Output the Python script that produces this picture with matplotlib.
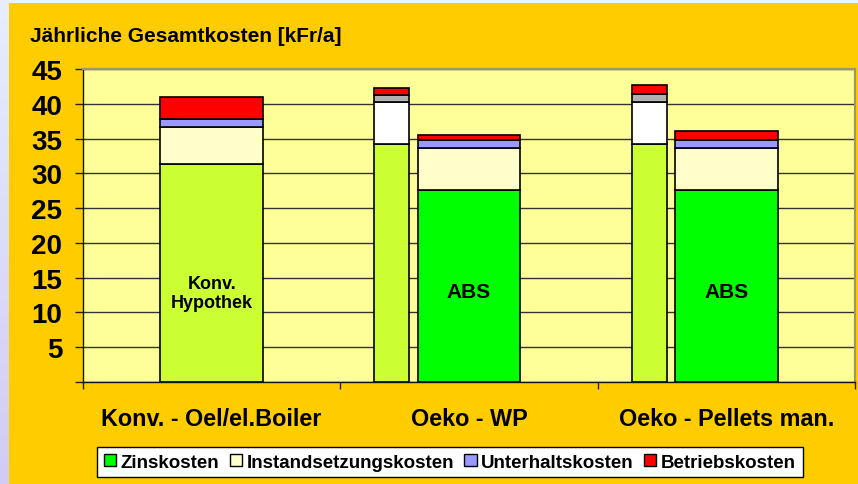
import numpy as np
import matplotlib
matplotlib.use('Agg')
import matplotlib.pyplot as plt
from matplotlib.patches import Rectangle, Patch

plt.rcParams['font.family'] = ['Liberation Sans', 'DejaVu Sans']
plt.rcParams['font.weight'] = 'bold'

categories = ['Konv. - Oel/el.Boiler', 'Oeko - WP', 'Oeko - Pellets man.']
series = ['Zinskosten', 'Instandsetzungskosten', 'Unterhaltskosten', 'Betriebskosten']

# wide bars (Konv. Hypothek / ABS)
zins = [31.4, 27.6, 27.6]
instand = [5.3, 6.1, 6.1]
unterhalt = [1.1, 1.1, 1.1]
betrieb = [3.2, 0.7, 1.3]
bar_labels = ['Konv.\nHypothek', 'ABS', 'ABS']

# narrow comparison bars (conventional mortgage) for the Oeko variants
narrow_cats = [1, 2]
n_zins = [34.2, 34.25]
n_instand = [6.0, 6.05]
n_unterhalt = [1.1, 1.1]
n_betrieb = [0.9, 1.35]

yticks = [5, 10, 15, 20, 25, 30, 35, 40, 45]

W, H = 858, 485
fig = plt.figure(figsize=(W / 100, H / 100), dpi=100)
fig.patch.set_facecolor('#FFCC00')
# left lavender strip and top light strip
grad = np.linspace(0, 1, 100).reshape(-1, 1)
bg = fig.add_axes([0, 0, 9 / W, 1])
bg.imshow(grad, aspect='auto', cmap=matplotlib.colors.LinearSegmentedColormap.from_list(
    'lav', ['#E6EEFF', '#D2CCF4']), extent=[0, 1, 0, 1], origin='upper')
bg.axis('off')
fig.patches.append(Rectangle((9 / W, 1 - 4 / H), 1, 4 / H, transform=fig.transFigure,
                             facecolor='#E8F4FF', edgecolor='none', zorder=0))

ax = fig.add_axes([83 / W, (H - 383) / H, (855 - 83) / W, (383 - 70) / H])
ax.set_facecolor('#FFFF99')

x = np.arange(len(categories))
wide_w = 0.40
edge = dict(edgecolor='black', linewidth=1.2, zorder=3)

colors_main = ['#00FF00', '#FFFFCC', '#9999FF', '#FF0000']
bottom = np.zeros(3)
for i, vals in enumerate([zins, instand, unterhalt, betrieb]):
    cols = [colors_main[i]] * 3
    if i == 0:
        cols[0] = '#CCFF33'
    ax.bar(x, vals, wide_w, bottom=bottom, color=cols, **edge)
    bottom += np.array(vals)

narrow_colors = ['#CCFF33', '#FFFFFF', '#B2B2B2', '#FF0000']
nx = np.array(narrow_cats) - 0.30
nbottom = np.zeros(2)
for i, vals in enumerate([n_zins, n_instand, n_unterhalt, n_betrieb]):
    ax.bar(nx, vals, 0.137, bottom=nbottom, color=narrow_colors[i], **edge)
    nbottom += np.array(vals)

ax.text(0, 12.8, bar_labels[0], ha='center', va='center', fontsize=13,
        fontweight='bold', linespacing=1.1, zorder=4)
for i in (1, 2):
    ax.text(i, 13.0, bar_labels[i], ha='center', va='center', fontsize=15,
            fontweight='bold', zorder=4)

ax.set_xlim(-0.5, 2.5)
ax.set_ylim(0, 45)
ax.set_yticks([0] + yticks)
ax.set_yticklabels([''] + [str(v) for v in yticks])
ax.yaxis.grid(True, color='#333333', linewidth=1.0, zorder=1)
ax.set_axisbelow(True)
ax.tick_params(axis='y', direction='out', length=6, width=1, pad=9,
               labelsize=20, color='#222222')

ax.set_xticks([-0.5, 0.5, 1.5, 2.5], minor=False)
ax.set_xticklabels([])
ax.set_xticks(x, minor=True)
ax.set_xticklabels(categories, minor=True, fontsize=16.8, fontweight='bold')
ax.tick_params(axis='x', which='major', direction='out', length=5, width=1, color='#222222')
ax.tick_params(axis='x', which='minor', length=0, pad=18)

for s in ['left', 'bottom']:
    ax.spines[s].set_color('#111111')
    ax.spines[s].set_linewidth(1.0)
for s in ['top', 'right']:
    ax.spines[s].set_color('#999966')
    ax.spines[s].set_linewidth(1.6)

fig.text(30 / W, 1 - 36 / H, 'Jährliche Gesamtkosten [kFr/a]', fontsize=15,
         fontweight='bold', va='center', ha='left')

handles = [Patch(facecolor=c, edgecolor='black', linewidth=1.0) for c in colors_main]
leg = fig.legend(handles, series, loc='center', bbox_to_anchor=(450 / W, 1 - 463 / H),
                 ncol=4, frameon=True, fancybox=False, prop={'weight': 'bold', 'size': 13.5},
                 handlelength=0.65, handleheight=0.65, handletextpad=0.25, columnspacing=0.55,
                 borderpad=0.35, edgecolor='black', facecolor='white', framealpha=1,
                 borderaxespad=0)
leg.get_frame().set_linewidth(1.0)

fig.savefig('out.png', dpi=100, facecolor=fig.get_facecolor())
